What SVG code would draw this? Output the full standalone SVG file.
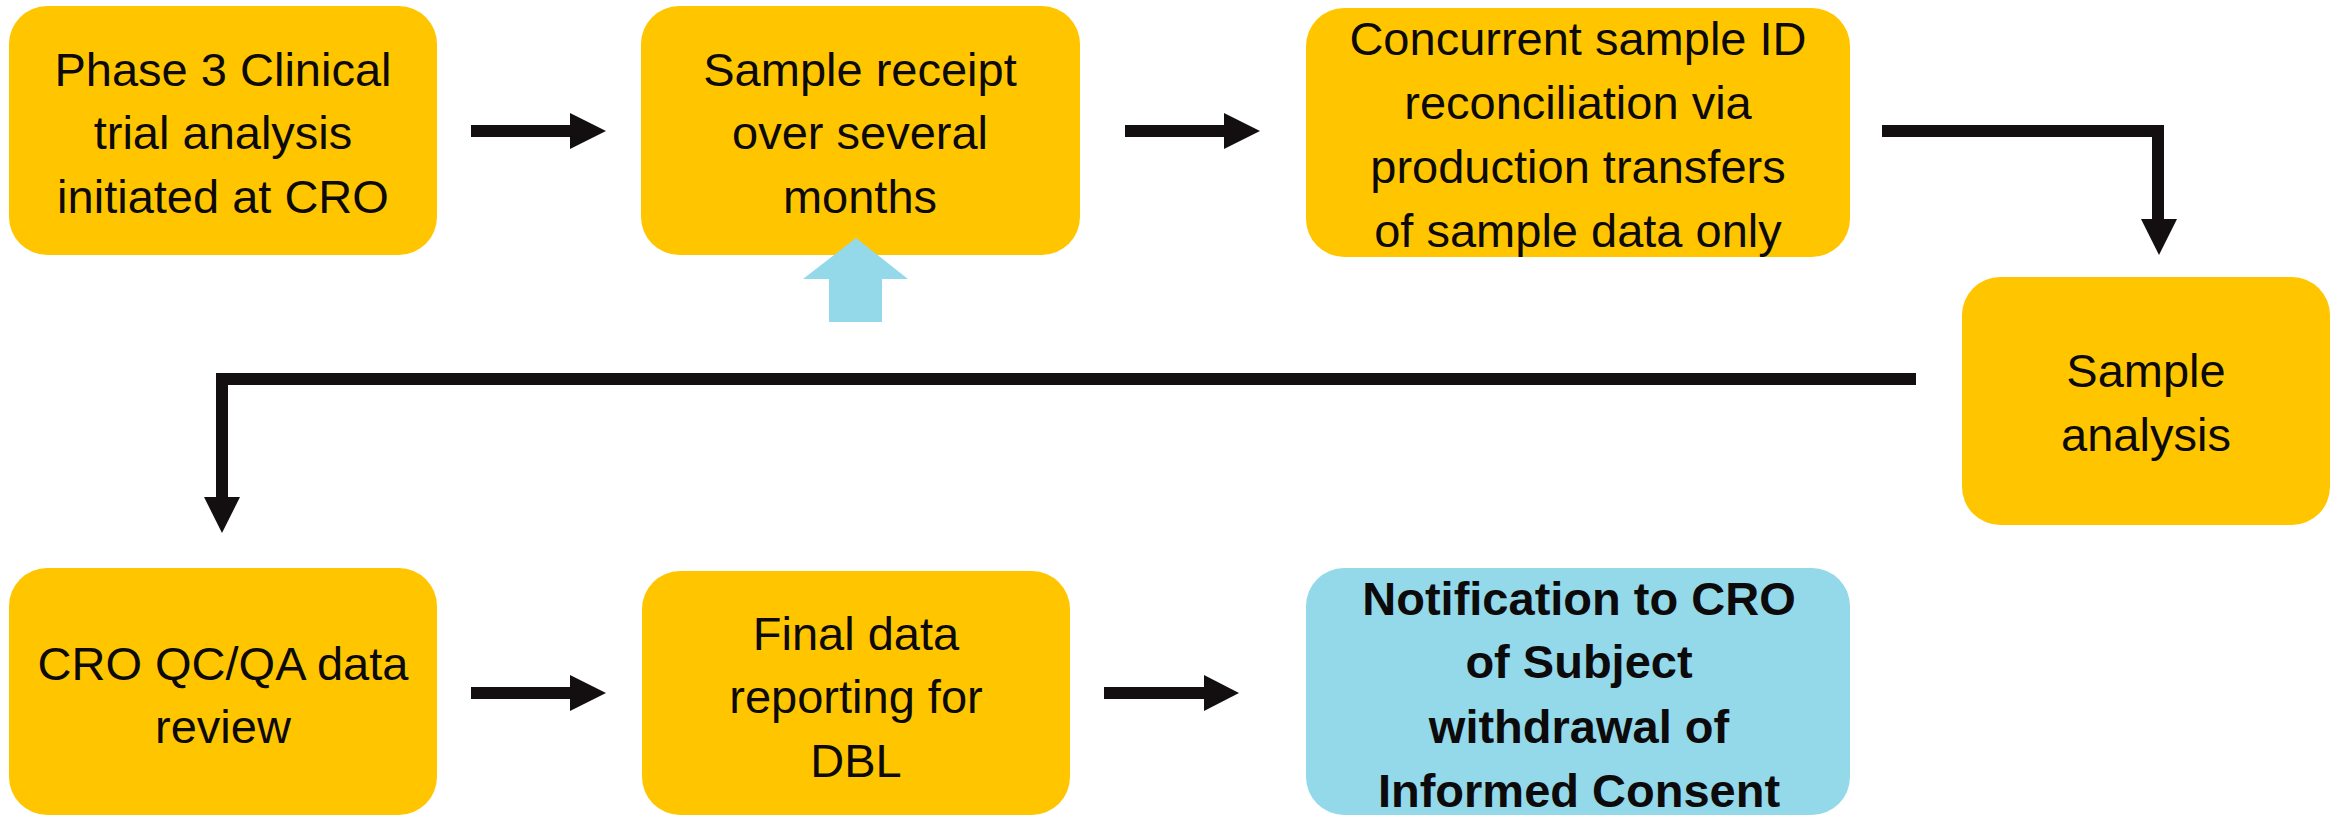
<svg xmlns="http://www.w3.org/2000/svg" width="2341" height="816" viewBox="0 0 2341 816">
<style>
.box{fill:#FFC600;}
.blue{fill:#93D9EA;}
.t{font-family:"Liberation Sans",Arial,sans-serif;font-size:47px;fill:#0d0a0b;text-anchor:middle;}
.b{font-weight:bold;}
.ln{fill:none;stroke:#130F10;stroke-width:12;}
.hd{fill:#130F10;}
</style>
<rect width="2341" height="816" fill="#ffffff"/>
<g id="n1">
<rect class="box" x="9" y="6" width="428" height="249" rx="38" ry="38"/>
<text class="t" x="223" y="86">Phase 3 Clinical</text>
<text class="t" x="223" y="149">trial analysis</text>
<text class="t" x="223" y="213">initiated at CRO</text>
</g>
<g id="n2">
<rect class="box" x="641" y="6" width="439" height="249" rx="38" ry="38"/>
<text class="t" x="860" y="86">Sample receipt</text>
<text class="t" x="860" y="149">over several</text>
<text class="t" x="860" y="213">months</text>
</g>
<g id="n3">
<rect class="box" x="1306" y="8" width="544" height="249" rx="38" ry="38"/>
<text class="t" x="1578" y="55">Concurrent sample ID</text>
<text class="t" x="1578" y="119">reconciliation via</text>
<text class="t" x="1578" y="183">production transfers</text>
<text class="t" x="1578" y="247">of sample data only</text>
</g>
<g id="n4">
<rect class="box" x="1962" y="277" width="368" height="248" rx="38" ry="38"/>
<text class="t" x="2146" y="387">Sample</text>
<text class="t" x="2146" y="451">analysis</text>
</g>
<g id="n5">
<rect class="box" x="9" y="568" width="428" height="247" rx="38" ry="38"/>
<text class="t" x="223" y="680">CRO QC/QA data</text>
<text class="t" x="223" y="743">review</text>
</g>
<g id="n6">
<rect class="box" x="642" y="571" width="428" height="244" rx="38" ry="38"/>
<text class="t" x="856" y="650">Final data</text>
<text class="t" x="856" y="713">reporting for</text>
<text class="t" x="856" y="777">DBL</text>
</g>
<g id="n7">
<rect class="blue" x="1306" y="568" width="544" height="247" rx="38" ry="38"/>
<text class="t b" x="1579" y="615">Notification to CRO</text>
<text class="t b" x="1579" y="678">of Subject</text>
<text class="t b" x="1579" y="743">withdrawal of</text>
<text class="t b" x="1579" y="807">Informed Consent</text>
</g>
<g id="connectors">
<path class="ln" d="M471 131H572"/>
<path class="hd" d="M570 113L606 131L570 149Z"/>
<path class="ln" d="M1125 131H1226"/>
<path class="hd" d="M1224 113L1260 131L1224 149Z"/>
<path class="ln" d="M1882 131H2158V221"/>
<path class="hd" d="M2141 219H2177L2159 255Z"/>
<path class="ln" d="M1916 379H222V499"/>
<path class="hd" d="M204 497H240L222 533Z"/>
<path class="ln" d="M471 693H572"/>
<path class="hd" d="M570 675L606 693L570 711Z"/>
<path class="ln" d="M1104 693H1206"/>
<path class="hd" d="M1204 675L1239 693L1204 711Z"/>
<path class="blue" d="M856 238L908 279H882V322H829V279H803Z"/>
</g>
</svg>
